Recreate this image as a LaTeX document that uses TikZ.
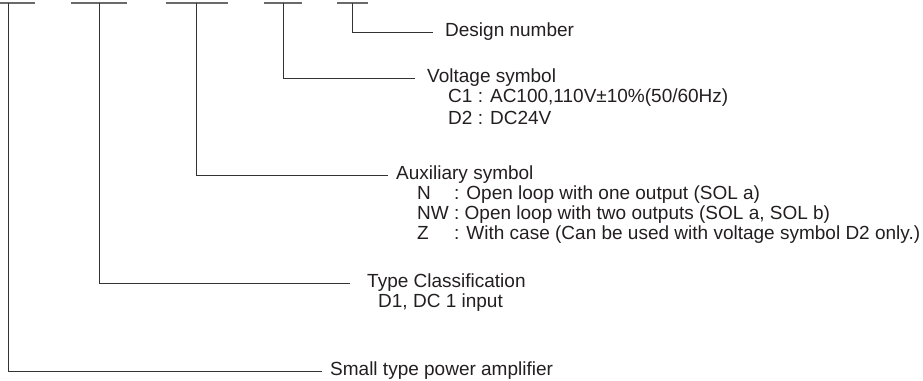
\documentclass[tikz,border=0pt]{standalone}
\usepackage{fontspec}
\setmainfont{Liberation Sans}
\definecolor{inkgray}{HTML}{231F20}
\definecolor{linegray}{HTML}{333333}
\definecolor{bargray}{HTML}{6A6A6A}
\tikzset{
  codebar/.style={draw=bargray, line width=1.6pt},
  lead/.style={draw=linegray, line width=0.9pt},
  lbl/.style={anchor=west, inner sep=0pt, text=inkgray,
    font=\fontsize{19}{21}\selectfont},
}
\begin{document}
\begin{tikzpicture}[x=1pt, y=-1pt]
\useasboundingbox (0, 0) rectangle (923, 380);

% code positions
\draw[codebar] (  0, 3) -- ( 35, 3);
\draw[codebar] ( 71, 3) -- (127, 3);
\draw[codebar] (166, 3) -- (228, 3);
\draw[codebar] (264, 3) -- (302, 3);
\draw[codebar] (337, 3) -- (368, 3);

\coordinate (s1) at (  8, 3);
\coordinate (s2) at ( 99, 3);
\coordinate (s3) at (196, 3);
\coordinate (s4) at (283, 3);
\coordinate (s5) at (352, 3);

\node[lbl] (design) at (445, 32) {Design number};

\node[lbl] (volt) at (427,  78) {Voltage symbol};
\node[lbl] (c1)   at (448,  98) {C1 : AC100,110V±10\%(50/60Hz)};
\node[lbl] (d2)   at (448, 118) {D2 : DC24V};

\node[lbl] (aux) at (396, 175) {Auxiliary symbol};
\node[lbl] (n)   at (417, 195) {\rlap{N}\hphantom{NW} : Open loop with one output (SOL a)};
\node[lbl] (nw)  at (417, 215) {NW : Open loop with two outputs (SOL a, SOL b)};
\node[lbl] (z)   at (417, 235) {\rlap{Z}\hphantom{NW} : With case (Can be used with voltage symbol D2 only.)};

\node[lbl] (type) at (367, 283) {Type Classification};
\node[lbl] (d1)   at (378, 303) {D1, DC 1 input};

\node[lbl] (amp) at (330, 371) {Small type power amplifier};

\draw[lead, shorten >=12pt] (s5) |- (design);
\draw[lead, shorten >=12pt] (s4) |- (volt);
\draw[lead, shorten >=8pt]  (s3) |- (aux);
\draw[lead, shorten >=17pt] (s2) |- (type);
\draw[lead, shorten >=8pt]  (s1) |- (amp);
\end{tikzpicture}
\end{document}
